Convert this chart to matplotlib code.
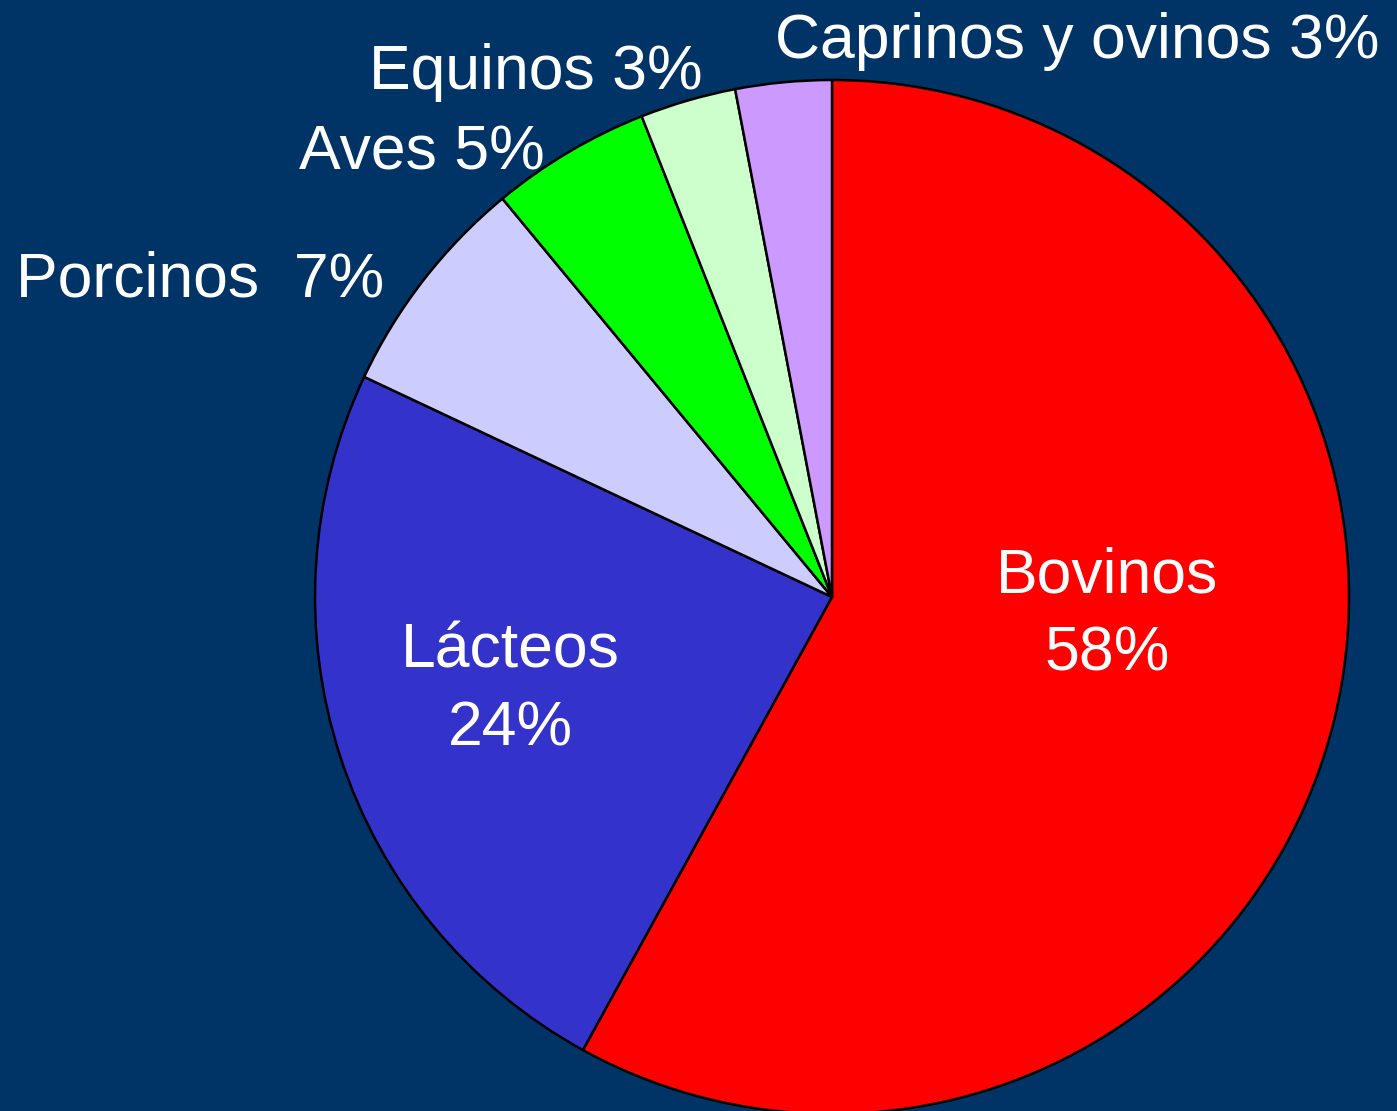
import matplotlib
matplotlib.use("Agg")
import matplotlib.pyplot as plt

categories = ["Bovinos", "Lácteos", "Porcinos", "Aves", "Equinos", "Caprinos y ovinos"]
values = [58, 24, 7, 5, 3, 3]
colors = ["#FF0000", "#3333CC", "#CCCCFF", "#00FF00", "#CCFFCC", "#CC99FF"]
label_texts = ["Bovinos\n58%", "Lácteos\n24%", "Porcinos  7%", "Aves 5%", "Equinos 3%", "Caprinos y ovinos 3%"]

plt.rcParams['font.family'] = ['Liberation Sans', 'DejaVu Sans']

W, H = 1397, 1111
cx, cy, R = 832, 597, 517
fig = plt.figure(figsize=(W / 100, H / 100), dpi=100, facecolor="#003366")
ax = fig.add_axes([0, 0, 1, 1])
ax.set_facecolor("#003366")
ax.pie(values, colors=colors, startangle=90, counterclock=False, radius=1,
       wedgeprops=dict(edgecolor="black", linewidth=1.8))
ax.set_xlim(-cx / R, (W - cx) / R)
ax.set_ylim(-(H - cy) / R, cy / R)
ax.set_aspect('auto')
ax.axis('off')

def px(x, y):
    return (x - cx) / R, (cy - y) / R

# label positions in pixel space (x center, baseline y)
label_pos = [(1107, 593), (510, 668), (200, 297), (422, 170), (536, 89), (1077, 58)]
fs = 45
for txt, (x, y) in zip(label_texts, label_pos):
    lines = txt.split("\n")
    for i, line in enumerate(lines):
        xx, yy = px(x, y + i * 78)
        ax.text(xx, yy, line, ha='center', va='baseline', color='white', fontsize=fs)

fig.savefig("out.png", dpi=100, facecolor=fig.get_facecolor())
